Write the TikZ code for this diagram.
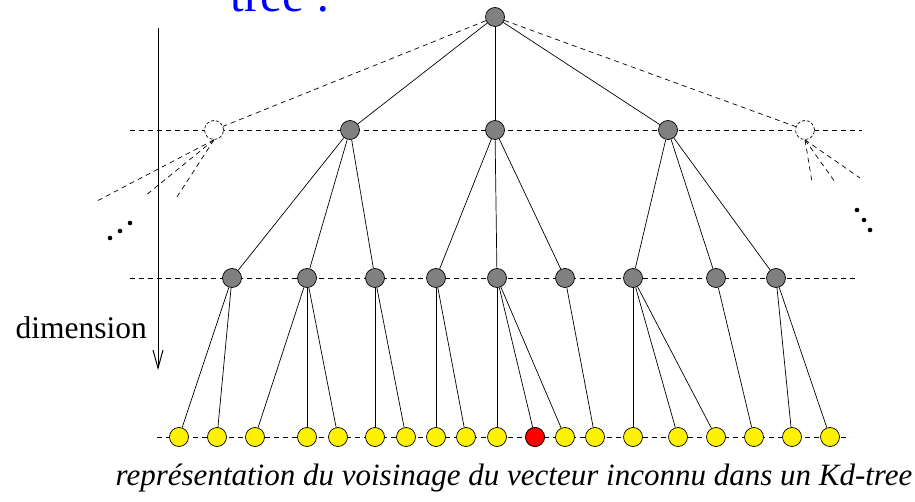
\documentclass[tikz,border=0pt]{standalone}
\usepackage{fontspec}
\setmainfont{Liberation Serif}
\usetikzlibrary{arrows.meta}

\tikzset{
	inner/.style={circle,draw,fill=gray,minimum size=19pt,inner sep=0pt},
	ghost/.style={circle,draw,dashed,dash pattern=on 3pt off 2pt,fill=white,minimum size=19pt,inner sep=0pt},
	leaf/.style={circle,draw,fill=yellow,minimum size=19pt,inner sep=0pt},
	cut/.style={dash pattern=on 5pt off 4pt},
}

\begin{document}
\begin{tikzpicture}[x=1pt,y=-1pt,line width=0.7pt]
	\useasboundingbox (0,0) rectangle (915,502);
	% planes of the tree
	\draw[cut] (130,130) -- (862,130);
	\draw[cut] (130,278) -- (858,278);
	\draw[cut] (157,437) -- (850,437);
	% axis
	\draw[line width=1pt,-{Straight Barb[length=18pt,width=10pt]}] (158,28) -- (158,370);
	\path (12,338) node [anchor=base west,font=\fontsize{31.5}{36}\selectfont] {dimension};
	\path (227,12) node [anchor=base west,text=blue,font=\fontsize{49}{56}\selectfont] {tree :};
	% nodes
	\node[inner] (r) at (495,17) {};
	\node[ghost] (gl) at (214,130) {};
	\node[ghost] (gr) at (805,130) {};
	\node[inner] (a1) at (350,130) {};
	\node[inner] (a2) at (495,130) {};
	\node[inner] (a3) at (668,130) {};
	\foreach \x [count=\i] in {232,307,375,436,497,565,633,716,776}
		\node[inner] (b\i) at (\x,278) {};
	\foreach \x [count=\i] in {179,217,255,307,338,375,406,436,466,497,535,565,595,633,678,716,754,792,830}
		\node[leaf] (l\i) at (\x,437) {};
	\node[leaf,fill=red] at (l11) {};
	% edges
	\draw[cut] (r) -- (gl);
	\draw[cut] (r) -- (gr);
	\draw (r) -- (a1);
	\draw (r) -- (a2);
	\draw (r) -- (a3);
	\foreach \p/\c in {a1/b1,a1/b2,a1/b3,a2/b4,a2/b5,a2/b6,a3/b7,a3/b8,a3/b9,
		b1/l1,b1/l2,b2/l3,b2/l4,b2/l5,b3/l6,b3/l7,b4/l8,b4/l9,b5/l10,b5/l11,b5/l12,
		b6/l13,b7/l14,b7/l15,b7/l16,b8/l17,b9/l18,b9/l19}
		\draw (\p) -- (\c);
	% hidden branches
	\coordinate (fl1) at (97,201);
	\coordinate (fl2) at (145,196);
	\coordinate (fl3) at (175,200);
	\coordinate (fr1) at (812,182);
	\coordinate (fr2) at (835,182);
	\coordinate (fr3) at (860,178);
	\foreach \c in {fl1,fl2,fl3} \draw[cut] (gl.south) -- (\c);
	\foreach \c in {fr1,fr2,fr3} \draw[cut] (gr.south) -- (\c);
	\foreach \p in {(110,238),(120,231),(130,223),(857,210),(864,220),(870,230)}
		\fill \p circle (2.3);
	\path (112,485) node [anchor=base west,font=\fontsize{31}{36}\selectfont\itshape]
		{représentation du voisinage du vecteur inconnu dans un Kd-tree};
\end{tikzpicture}
\end{document}
